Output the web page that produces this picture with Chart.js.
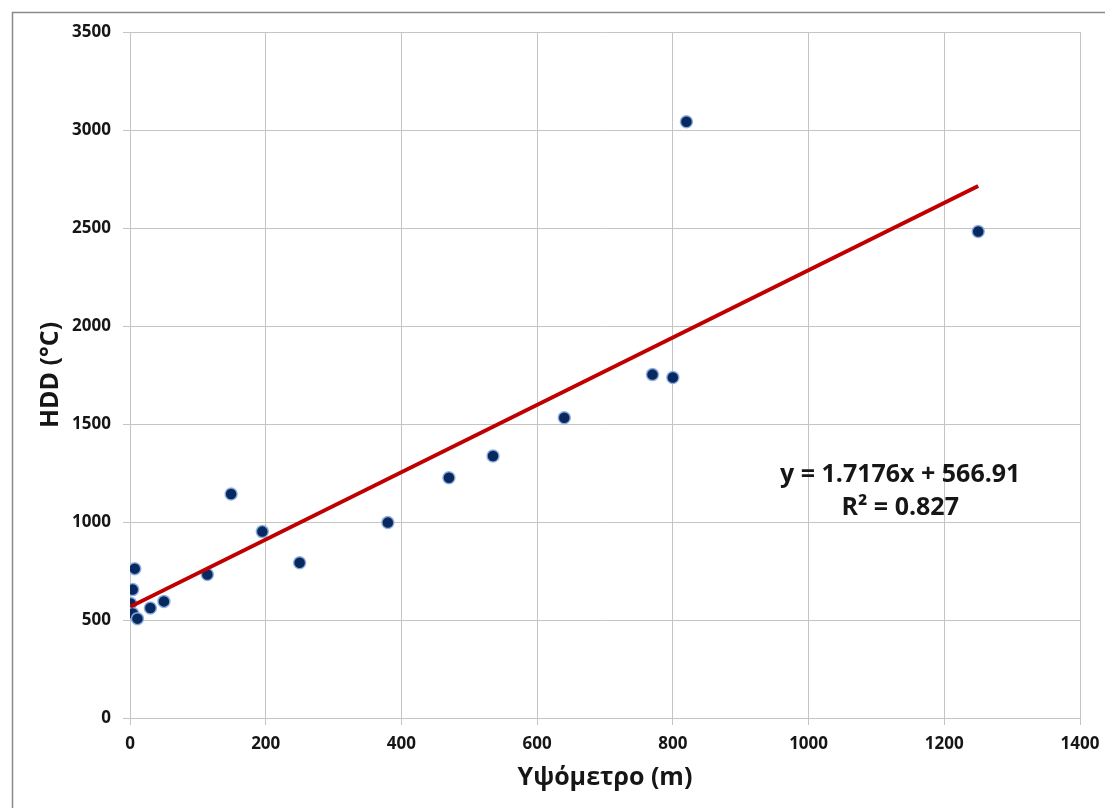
<!DOCTYPE html>
<html>
<head>
<meta charset="utf-8">
<script src="https://cdn.jsdelivr.net/npm/chart.js@4.4.1/dist/chart.umd.min.js"></script>
<style>
  html, body { margin: 0; padding: 0; background: #ffffff; }
  #wrap { position: relative; width: 1105px; height: 808px; }
</style>
</head>
<body>
<div id="wrap"><canvas id="c" width="1105" height="808"></canvas></div>
<script>
// Altitude of each station (m) and its heating degree days (°C)
const altitude = [1, 4, 4, 7, 11, 30, 50, 114, 149, 195, 250, 380, 470, 535, 640, 770, 800, 820, 1250];
const hdd      = [584, 533, 655, 762, 507, 561, 595, 732, 1143, 951, 792, 997, 1226, 1337, 1532, 1752, 1737, 3042, 2482];

// Linear trend: y = slope * x + intercept
const slope = 1.7176;
const intercept = 566.91;
const rSquared = 0.827;

const xTicks = [0, 200, 400, 600, 800, 1000, 1200, 1400];
const yTicks = [0, 500, 1000, 1500, 2000, 2500, 3000, 3500];

const xTitle = 'Υψόμετρο (m)';
const yTitle = 'HDD (\u00B0C)';
const equationText = 'y = ' + slope + 'x + ' + intercept;
const r2Text = 'R\u00B2 = ' + rSquared;

const points = altitude.map((a, i) => ({ x: a, y: hdd[i] }));
const xMin = Math.min(...altitude), xMax = Math.max(...altitude);
const trend = [xMin, xMax].map(x => ({ x: x, y: slope * x + intercept }));

const FONT = '"Open Sans", "DejaVu Sans", sans-serif';
const INK = '#161616';
const GRID = '#c4c4c4';

// Outer frame and the regression label
const decor = {
  id: 'decor',
  beforeDraw(chart) {
    const ctx = chart.ctx;
    ctx.save();
    ctx.strokeStyle = '#8a8a8a';
    ctx.lineWidth = 1.5;
    ctx.beginPath();
    ctx.moveTo(12.5, 808);
    ctx.lineTo(12.5, 12.5);
    ctx.lineTo(1105, 12.5);
    ctx.stroke();
    ctx.restore();
  },
  afterDraw(chart) {
    const ctx = chart.ctx;
    const xs = chart.scales.x, ys = chart.scales.y;
    const cx = xs.getPixelForValue(1135);
    ctx.save();
    ctx.fillStyle = INK;
    ctx.font = 'bold 25px ' + FONT;
    ctx.textAlign = 'center';
    ctx.textBaseline = 'middle';
    ctx.fillText(equationText, cx, ys.getPixelForValue(1240));
    ctx.fillText(r2Text, cx, ys.getPixelForValue(1070));
    ctx.restore();
  }
};

const plain = v => String(v);

new Chart(document.getElementById('c'), {
  type: 'scatter',
  data: {
    datasets: [
      {
        type: 'line',
        data: trend,
        borderColor: '#c00000',
        borderWidth: 4,
        pointRadius: 0,
        fill: false
      },
      {
        data: points,
        pointRadius: 6,
        pointBackgroundColor: '#08295f',
        pointBorderColor: 'rgba(140,175,225,0.9)',
        pointBorderWidth: 1.5
      }
    ]
  },
  plugins: [decor],
  options: {
    responsive: false,
    animation: false,
    events: [],
    layout: { padding: { left: 0, top: 32, right: 25, bottom: 0 } },
    plugins: { legend: { display: false }, tooltip: { enabled: false } },
    scales: {
      x: {
        type: 'linear',
        min: 0, max: 1400,
        afterBuildTicks(s) { s.ticks = xTicks.map(v => ({ value: v })); },
        afterFit(s) { s.height = 90; s.paddingLeft = 0; s.paddingRight = 0; },
        grid: { color: GRID, lineWidth: 1, tickLength: 7, tickColor: GRID },
        border: { color: GRID, width: 1 },
        ticks: { color: INK, font: { family: FONT, size: 17, weight: 'bold' }, padding: 9, maxRotation: 0, callback: plain },
        title: { display: true, text: xTitle, color: INK, font: { family: FONT, size: 25, weight: 'bold' }, padding: { top: 0, bottom: 15 } }
      },
      y: {
        type: 'linear',
        min: 0, max: 3500,
        afterBuildTicks(s) { s.ticks = yTicks.map(v => ({ value: v })); },
        afterFit(s) { s.width = 130; s.paddingTop = 0; s.paddingBottom = 0; },
        grid: { color: GRID, lineWidth: 1, tickLength: 7, tickColor: GRID },
        border: { color: GRID, width: 1 },
        ticks: { color: INK, font: { family: FONT, size: 17, weight: 'bold' }, padding: 12, callback: plain },
        title: { display: true, text: yTitle, color: INK, font: { family: FONT, size: 25, weight: 'bold' }, padding: { top: 36, bottom: 0 } }
      }
    }
  }
});
</script>
</body>
</html>
